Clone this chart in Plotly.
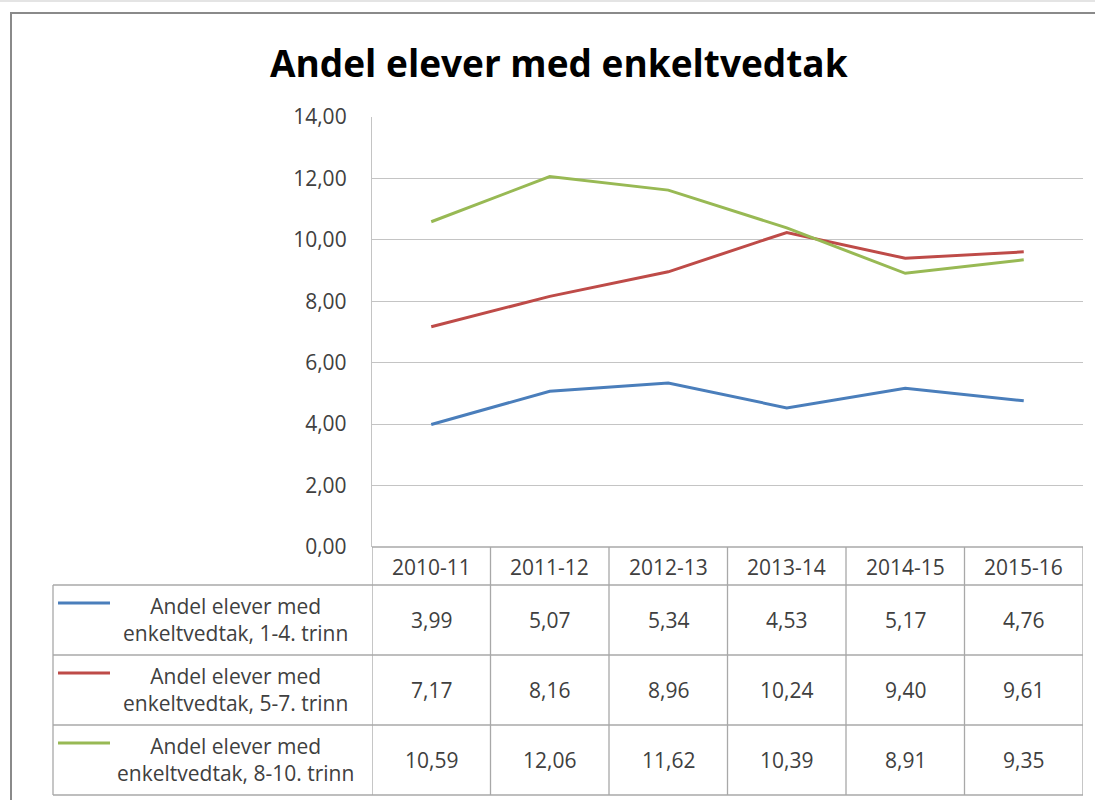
import plotly.graph_objects as go

categories = ["2010-11", "2011-12", "2012-13", "2013-14", "2014-15", "2015-16"]
series_names = [
    "Andel elever med<br>enkeltvedtak, 1-4. trinn",
    "Andel elever med<br>enkeltvedtak, 5-7. trinn",
    "Andel elever med<br>enkeltvedtak, 8-10. trinn",
]
vals_1_4 = [3.99, 5.07, 5.34, 4.53, 5.17, 4.76]
vals_5_7 = [7.17, 8.16, 8.96, 10.24, 9.40, 9.61]
vals_8_10 = [10.59, 12.06, 11.62, 10.39, 8.91, 9.35]
series_values = [vals_1_4, vals_5_7, vals_8_10]
colors = ["#4a7ebb", "#be4b48", "#98b954"]
title = "Andel elever med enkeltvedtak"

W, H = 1095, 800
L, R, T, B = 372, 1083, 117, 547  # plot area in pixels
pw, ph = R - L, B - T


def px(x):
    return (x - L) / pw


def py(y):
    return (B - y) / ph


FONT = "Open Sans"
FS = 21
TXT = "#404040"
GRID = "#c4c4c4"
TAB = "#a8a8a8"

fig = go.Figure()
for name, vals, c in zip(series_names, series_values, colors):
    fig.add_trace(go.Scatter(x=categories, y=vals, mode="lines", name=name,
                             line=dict(color=c, width=3), showlegend=False))

shapes = []
annotations = []

# light band at very top and outer chart border
shapes.append(dict(type="rect", xref="paper", yref="paper", x0=px(-5), x1=px(1100), y0=py(-5), y1=py(2),
                   line=dict(width=0), fillcolor="#e4e4e4", layer="below"))
shapes.append(dict(type="rect", xref="paper", yref="paper", x0=px(11), x1=px(1130), y0=py(13), y1=py(840),
                   line=dict(color="#8a8a8a", width=2), layer="below"))

row_lines = [585, 655, 725, 795]
shapes.append(dict(type="line", xref="paper", yref="paper", x0=0, x1=1, y0=0, y1=0,
                   line=dict(color=TAB, width=1.3)))
for yl in row_lines:
    shapes.append(dict(type="line", xref="paper", yref="paper", x0=px(53), x1=1, y0=py(yl), y1=py(yl),
                       line=dict(color=TAB, width=1.3)))
n = len(categories)
for i in range(n + 1):
    shapes.append(dict(type="line", xref="x", yref="paper", x0=i - 0.5, x1=i - 0.5, y0=0, y1=py(795),
                       line=dict(color=TAB, width=1.3)))
shapes.append(dict(type="line", xref="paper", yref="paper", x0=px(53), x1=px(53), y0=py(585), y1=py(795),
                   line=dict(color=TAB, width=1.3)))

# header labels
for c in categories:
    annotations.append(dict(x=c, xref="x", y=py(567), yref="paper", text=c, showarrow=False,
                            font=dict(family=FONT, size=FS, color=TXT), xanchor="center", yanchor="middle"))

# rows
row_mid = [620, 690, 760]
for r, (name, vals, col) in enumerate(zip(series_names, series_values, colors)):
    ym = row_mid[r]
    for c, v in zip(categories, vals):
        annotations.append(dict(x=c, xref="x", y=py(ym), yref="paper", text=f"{v:.2f}".replace(".", ","),
                                showarrow=False, font=dict(family=FONT, size=FS, color=TXT),
                                xanchor="center", yanchor="middle"))
    annotations.append(dict(x=px(235), xref="paper", y=py(ym - 1), yref="paper", text=name, showarrow=False,
                            font=dict(family=FONT, size=FS, color=TXT), xanchor="center", yanchor="middle",
                            align="center"))
    shapes.append(dict(type="line", xref="paper", yref="paper", x0=px(58), x1=px(110),
                       y0=py(ym - 17), y1=py(ym - 17), line=dict(color=col, width=3)))

annotations.append(dict(x=px(559), xref="paper", y=py(62), yref="paper", text=f"<b>{title}</b>",
                        showarrow=False, font=dict(family=FONT, size=37, color="#000000"),
                        xanchor="center", yanchor="middle"))

fig.update_layout(
    width=W, height=H,
    margin=dict(l=L, r=W - R, t=T, b=H - B, pad=0),
    paper_bgcolor="white", plot_bgcolor="white",
    separators=", ",
    shapes=shapes, annotations=annotations,
    showlegend=False,
    xaxis=dict(type="category", range=[-0.5, n - 0.5], showticklabels=False, showgrid=False,
               zeroline=False, showline=False, fixedrange=True),
    yaxis=dict(range=[0, 14], dtick=2, tickformat=".2f", showgrid=True, gridcolor=GRID, gridwidth=1.3,
               zeroline=False, showline=True, linecolor=GRID, linewidth=1.3,
               tickfont=dict(family=FONT, size=FS, color=TXT), ticks="", ticklabelstandoff=20,
               fixedrange=True),
)

fig.write_html("out.html", config={"displayModeBar": False},
               post_script="document.body.style.margin='0';document.body.style.overflow='hidden';")
